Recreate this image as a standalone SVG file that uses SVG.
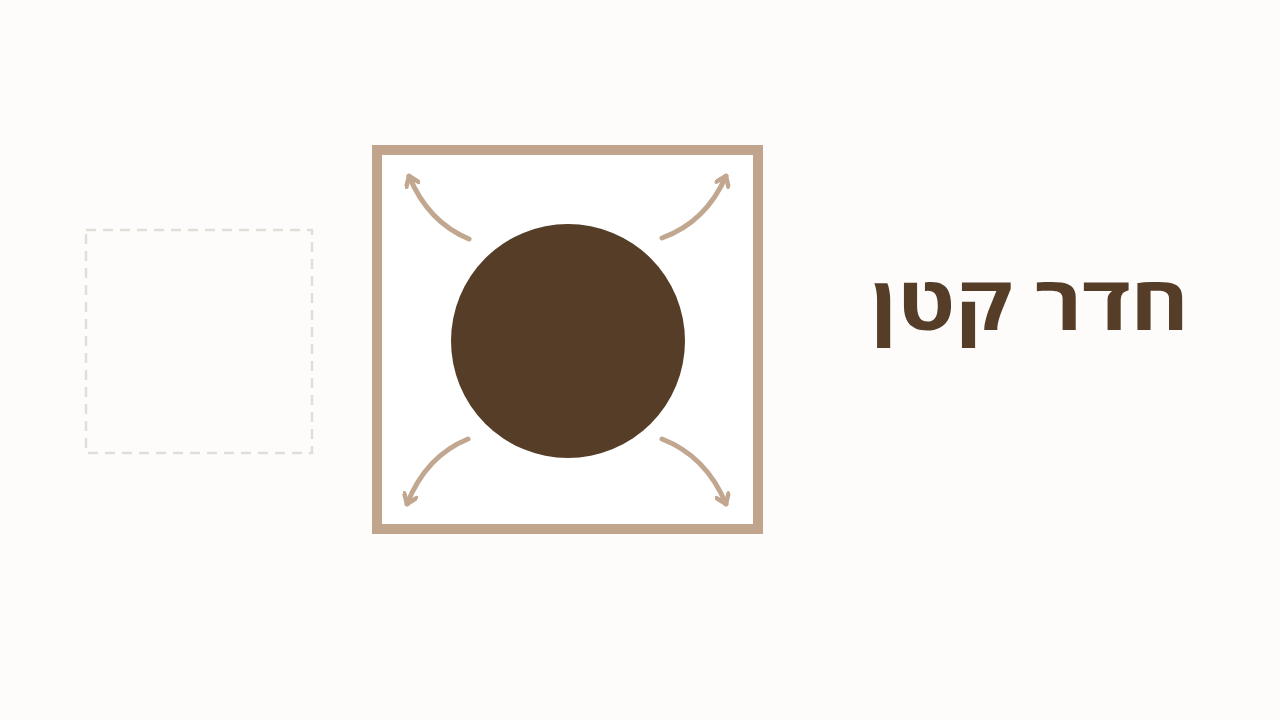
<svg xmlns="http://www.w3.org/2000/svg" width="1280" height="720" viewBox="0 0 1280 720">
<style>
.arrow{fill:none;stroke:#c2a790;stroke-width:5;stroke-linecap:round;marker-end:url(#head)}
.lbl{font-family:"Open Sans","DejaVu Sans",sans-serif;font-weight:bold;font-size:75px;fill:#553d28}
</style>
<defs>
<marker id="head" viewBox="0 0 16 16" refX="12" refY="8" markerWidth="16" markerHeight="16" markerUnits="userSpaceOnUse" orient="auto">
<path d="M3,1.5 L12,8 L3,14.5" fill="none" stroke="#c2a790" stroke-width="4.5" stroke-linecap="round" stroke-linejoin="round"/>
</marker>
</defs>
<rect width="1280" height="720" fill="#fdfcfb"/>
<g id="ghost-room">
<rect x="86" y="230" width="226" height="223" fill="none" stroke="#e3ddd7" stroke-width="2.5" stroke-dasharray="10 7"/>
</g>
<g id="room">
<rect x="377" y="150" width="381" height="379" fill="#ffffff" stroke="#c0a48c" stroke-width="10"/>
</g>
<g id="table">
<circle cx="568" cy="341" r="117" fill="#553d28"/>
</g>
<g id="connectors">
<path class="arrow" d="M469,239 Q428,222 409,176"/>
<path class="arrow" d="M662,238 Q706,222 726,176"/>
<path class="arrow" d="M468,439 Q426,456 407,504"/>
<path class="arrow" d="M662,439 Q706,456 726,504"/>
</g>
<g id="label">
<text class="lbl" x="1189" y="330" text-anchor="end" textLength="318" lengthAdjust="spacingAndGlyphs">חדר קטן</text>
</g>
</svg>
